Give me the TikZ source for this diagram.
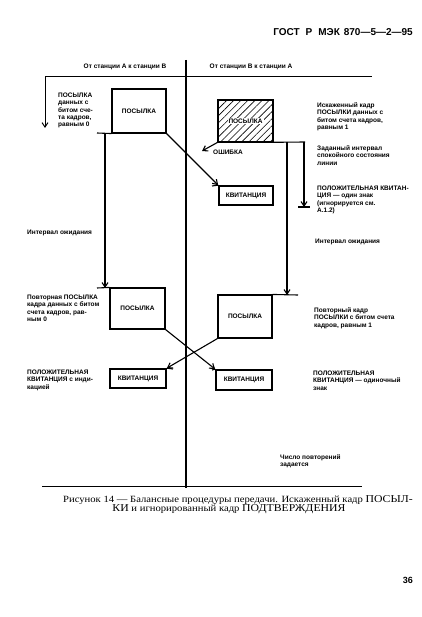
\documentclass[tikz,border=0pt]{standalone}
\usepackage{fontspec}
\setmainfont{Liberation Sans}
\newfontfamily\capfont{Liberation Serif}[FakeStretch=1.12]
\usetikzlibrary{arrows.meta,patterns.meta}
\begin{document}
\begin{tikzpicture}[x=1pt,y=-1pt,
  lbl/.style={font=\fontsize{6.5}{7.4}\selectfont\bfseries, align=left, anchor=north west, inner sep=0pt},
  lbl1/.style={font=\fontsize{6.5}{7.4}\selectfont\bfseries, anchor=west, inner sep=0pt},
  frame/.style={draw, line width=1.1pt, inner sep=0pt, font=\fontsize{6.5}{7.4}\selectfont\bfseries},
  kframe/.style={frame, line width=1.7pt},
  ln/.style={line width=1.1pt},
  arr/.style={ln, -{Straight Barb[length=4.5pt,width=6pt]}},
  capt/.style={anchor=west, inner sep=0pt, font=\capfont\fontsize{9.5}{10}\selectfont},
]
\useasboundingbox (0,0) rectangle (422,617);
\fill[white] (0,0) rectangle (422,617);

% header
\node[anchor=east, inner sep=0pt, font=\bfseries\fontsize{10}{11}\selectfont] (hdr) at (413,32)
  {ГОСТ\hspace{6pt}Р\hspace{6pt}МЭК\hspace{4pt}870—5—2—95};
\node[lbl1, anchor=center] (hA) at (125,67) {От станции А к станции В};
\node[lbl1, anchor=center] (hB) at (251,67) {От станции В к станции А};

% frame lines
\coordinate (tl) at (45,77);
\coordinate (tr) at (372,77);
\coordinate (ta) at (45,128);
\draw[line width=1pt] (tl) -- (tr);
\draw[arr, line width=1pt] (tl) -- (ta);
\coordinate (ct) at (186,60);
\coordinate (cb) at (186,488);
\draw[line width=1.2pt] (ct) -- (cb);
\coordinate (bl) at (42,486);
\coordinate (br) at (362,486);
\draw[line width=1pt] (bl) -- (br);

% boxes
\node[frame, minimum width=54pt, minimum height=44pt] (p1) at (139,111) {ПОСЫЛКА};
\node[frame, minimum width=55pt, minimum height=42pt,
      pattern={Lines[angle=45,distance=5pt,line width=0.6pt]}] (p2) at (245.5,121) {};
\node[fill=white, inner sep=1pt, font=\fontsize{6.5}{7.4}\selectfont\bfseries] (p2t) at (p2) {ПОСЫЛКА};
\node[kframe, minimum width=54pt, minimum height=19pt] (k1) at (246,195.5) {КВИТАНЦИЯ};
\node[frame, minimum width=55pt, minimum height=41pt] (p3) at (137.5,308.5) {ПОСЫЛКА};
\node[frame, minimum width=54pt, minimum height=43pt] (p4) at (245,316.5) {ПОСЫЛКА};
\node[kframe, minimum width=56pt, minimum height=19pt] (k2) at (138,378.5) {КВИТАНЦИЯ};
\node[kframe, minimum width=56pt, minimum height=20pt] (k3) at (244,380) {КВИТАНЦИЯ};

% connectors left
\coordinate (c1) at (97,133);
\draw[ln] (c1) -- (p1.south west);
\coordinate (v1a) at (105,133);
\coordinate (v1b) at (105,288);
\draw[arr] (v1a) -- (v1b);
\coordinate (c3) at (97,288);
\draw[ln] (c3) -- (p3.north west);
\draw[arr] (p1.south east) -- (k1.north west);
\coordinate (c4) at (212,186);
\draw[ln] (c4) -- (k1.north west);

% connectors right
\coordinate (c5) at (305,142);
\draw[ln] (p2.south east) -- (c5);
\coordinate (v2a) at (287,142);
\coordinate (v2b) at (287,295);
\draw[arr] (v2a) -- (v2b);
\coordinate (c6) at (298,295);
\draw[ln] (p4.north east) -- (c6);
\coordinate (ia) at (304,142);
\coordinate (ib) at (304,207);
\draw[arr] (ia) -- (ib);
\coordinate (t1) at (298,207);
\coordinate (t2) at (310,207);
\draw[ln] (t1) -- (t2);
\coordinate (err) at (202,151);
\draw[arr] (p2.south west) -- (err);
\node[lbl1] (errt) at (213,152.5) {ОШИБКА};

% crossing
\draw[arr] (p3.south east) -- (k3.north west);
\draw[arr] (p4.south west) -- (k2.north east);
\coordinate (c7) at (173,369);
\draw[ln] (k2.north east) -- (c7);
\coordinate (c8) at (212,370);
\draw[ln] (c8) -- (k3.north west);

% left labels
\node[lbl] (L1) at (58,92.5) {ПОСЫЛКА\\данных с\\битом сче-\\та кадров,\\равным 0};
\node[lbl1] (L2) at (27,233) {Интервал ожидания};
\node[lbl] (L3) at (27,294.5) {Повторная ПОСЫЛКА\\кадра данных с битом\\счета кадров, рав-\\ным 0};
\node[lbl] (L4) at (27,369.5) {ПОЛОЖИТЕЛЬНАЯ\\КВИТАНЦИЯ с инди-\\кацией};

% right labels
\node[lbl] (R1) at (317,102.5) {Искаженный кадр\\ПОСЫЛКИ данных с\\битом счета кадров,\\равным 1};
\node[lbl] (R2) at (317,145.5) {Заданный интервал\\спокойного состояния\\линии};
\node[lbl] (R3) at (317,185.5) {ПОЛОЖИТЕЛЬНАЯ КВИТАН-\\ЦИЯ — один знак\\(игнорируется см.\\А.1.2)};
\node[lbl1] (R4) at (315,242) {Интервал ожидания};
\node[lbl] (R5) at (314,307.5) {Повторный кадр\\ПОСЫЛКИ с битом счета\\кадров, равным 1};
\node[lbl] (R6) at (313,370.5) {ПОЛОЖИТЕЛЬНАЯ\\КВИТАНЦИЯ — одиночный\\знак};
\node[lbl] (R7) at (280,454.5) {Число повторений\\задается};

% caption
\node[capt] (cap1) at (63,500) {Рисунок 14 — Балансные процедуры передачи. Искаженный кадр {\fontsize{10.5}{10}\selectfont ПОСЫЛ-}};
\node[capt, anchor=center] (cap2) at (229,509.5) {{\fontsize{10.5}{10}\selectfont КИ} и игнорированный кадр {\fontsize{10.5}{10}\selectfont ПОДТВЕРЖДЕНИЯ}};
\node[anchor=east, inner sep=0pt, font=\bfseries\fontsize{9}{10}\selectfont] (pg) at (413,580) {36};
\end{tikzpicture}
\end{document}
